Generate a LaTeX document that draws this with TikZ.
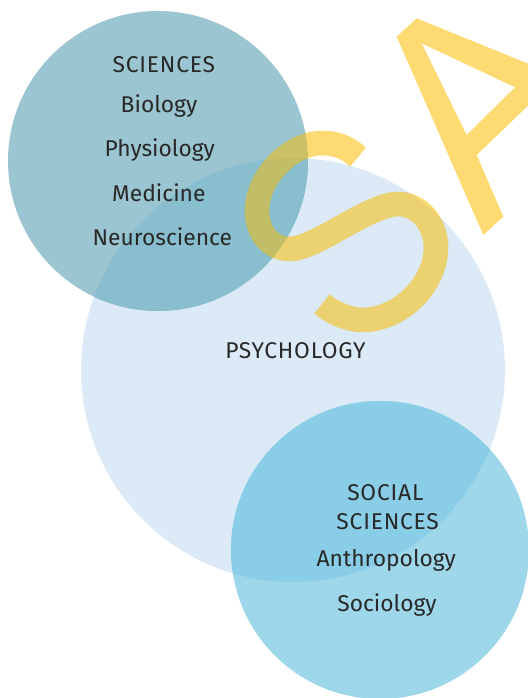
\documentclass[tikz,border=0pt]{standalone}
\usepackage{fontspec}
\setmainfont{Fira Sans}
\newfontfamily\capsfam[LetterSpace=3.5]{Fira Sans}
\definecolor{psych}{RGB}{220,234,247}
\definecolor{sci}{RGB}{155,197,208}
\definecolor{scipsy}{RGB}{136,190,206}
\definecolor{soc}{RGB}{158,214,234}
\definecolor{socpsy}{RGB}{137,205,230}
\definecolor{yel}{RGB}{253,218,114}
\definecolor{txt}{RGB}{40,40,40}
\tikzset{
  lbl/.style={anchor=base, text=txt, font=\fontsize{22.8}{26}\selectfont, inner sep=0pt},
  caplbl/.style={lbl, font=\capsfam\fontsize{22.8}{26}\selectfont},
  spath/.style={line width=24.5pt, line cap=butt, line join=round}
}
\begin{document}
\begin{tikzpicture}[x=1pt,y=-1pt]
\useasboundingbox (0,0) rectangle (527,698);
% circles
\fill[psych] (293,370) circle (212);
\fill[sci] (158,161) circle (150);
\begin{scope}
  \clip (158,161) circle (150);
  \fill[scipsy] (293,370) circle (212);
\end{scope}
\fill[soc] (380,550) circle (149);
\begin{scope}
  \clip (380,550) circle (149);
  \fill[socpsy] (293,370) circle (212);
\end{scope}
% A
\fill[yel, even odd rule]
  (396.7,36.7) -- (416.7,18.3) -- (535,66.5) -- (535,99) -- (476.7,155)
  -- (503.3,216.7) -- (483.3,235) -- cycle
  (421.7,43.3) -- (515,87.3) -- (466.7,135) -- cycle;
% S
\def\Spath{(358,157) .. controls (348,148) and (337,143) .. (322,143)
  .. controls (290,143) and (257,178) .. (257,210)
  .. controls (257,235) and (272,249) .. (290,249)
  .. controls (315,249) and (370,204) .. (398,204)
  .. controls (420,204) and (436,225) .. (436,247)
  .. controls (436,285) and (400,320) .. (362,320)
  .. controls (350,320) and (332,313) .. (322,304)}
\begin{scope}[blend mode=multiply]
  \draw[spath, yel] \Spath;
\end{scope}
\draw[spath, yel, draw opacity=0.5] \Spath;
% labels
\node[caplbl] (sci) at (163.8,72.7) {SCIENCES};
\node[lbl] (bio) at (159,112.7) {Biology};
\node[lbl] (phy) at (159.7,156.7) {Physiology};
\node[lbl] (med) at (158.8,201.7) {Medicine};
\node[lbl] (neu) at (162.3,245) {Neuroscience};
\node[caplbl] (psy) at (295.5,358) {PSYCHOLOGY};
\node[caplbl] (soc1) at (385.3,500) {SOCIAL};
\node[caplbl] (soc2) at (387.7,529) {SCIENCES};
\node[lbl] (ant) at (386.3,566.7) {Anthropology};
\node[lbl] (socio) at (387,611.7) {Sociology};
\end{tikzpicture}
\end{document}
